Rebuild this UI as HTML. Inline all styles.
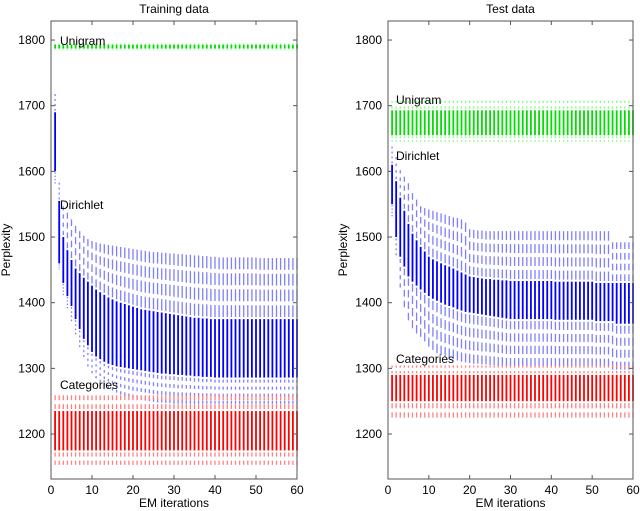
<!DOCTYPE html>
<html><head><meta charset="utf-8"><style>
html,body{margin:0;padding:0;background:#fff;width:640px;height:511px;overflow:hidden}
svg{display:block;font-family:"Liberation Sans",sans-serif}
</style></head><body>
<svg id="c" width="640" height="511"></svg>
<script>
const iterations = Array.from({length:60},(_,i)=>i+1);
const yTicks = [1200,1300,1400,1500,1600,1700,1800];
const xTicks = [0,10,20,30,40,50,60];
// Training Dirichlet quantile curves
const trainInnerTop = [1690,1555,1500,1480,1465,1452,1445,1438,1432,1426,1420,1416,1412,1408,1405,1402,1400,1398,1396,1394,1392,1390,1389,1388,1387,1386,1385,1384,1383,1382,1381,1380,1379,1378,1377,1377,1376,1376,1375,1375,1375,1375,1375,1375,1375,1375,1375,1375,1375,1375,1375,1375,1375,1375,1375,1375,1375,1375,1375,1375];
const trainInnerBot = [1600,1460,1430,1410,1395,1375,1360,1345,1335,1325,1318,1314,1310,1307,1305,1303,1302,1301,1300,1299,1298,1297,1296,1295,1294,1293,1292,1292,1291,1291,1290,1290,1289,1289,1288,1288,1287,1287,1287,1286,1286,1286,1286,1286,1286,1286,1286,1286,1286,1286,1286,1286,1286,1286,1286,1286,1286,1286,1286,1286];
const trainOuterTop = [1720,1585,1550,1540,1530,1520,1512,1505,1500,1497,1495,1493,1492,1491,1490,1489,1488,1487,1486,1485,1484,1483,1482,1481,1480,1480,1479,1479,1478,1478,1477,1477,1476,1476,1475,1475,1474,1474,1473,1473,1472,1472,1472,1472,1472,1472,1472,1472,1472,1472,1471,1471,1471,1471,1471,1471,1471,1471,1471,1471];
const trainOuterBot = [1580,1450,1410,1390,1370,1350,1330,1315,1300,1290,1282,1276,1271,1267,1263,1260,1257,1255,1253,1251,1250,1249,1248,1247,1246,1245,1245,1244,1244,1243,1243,1243,1243,1243,1243,1243,1243,1243,1243,1243,1243,1243,1243,1243,1243,1243,1243,1243,1243,1243,1243,1243,1243,1243,1243,1243,1243,1243,1243,1243];
// Test Dirichlet quantile curves
const testInnerTop = [1610,1585,1560,1540,1520,1505,1495,1485,1478,1470,1466,1463,1460,1457,1455,1452,1449,1446,1443,1440,1439,1438,1437,1436,1436,1435,1435,1434,1434,1433,1433,1433,1433,1433,1433,1433,1433,1433,1433,1433,1432,1432,1432,1432,1432,1432,1432,1432,1432,1432,1430,1430,1430,1430,1430,1430,1430,1430,1430,1430];
const testInnerBot = [1550,1500,1470,1455,1440,1432,1426,1420,1415,1410,1406,1403,1400,1397,1395,1393,1390,1388,1386,1385,1384,1383,1382,1381,1380,1379,1378,1377,1376,1375,1375,1375,1375,1375,1375,1375,1375,1375,1375,1375,1374,1374,1374,1374,1374,1374,1374,1374,1374,1374,1372,1372,1372,1372,1372,1368,1368,1368,1368,1368];
const testOuterTop = [1640,1625,1605,1595,1585,1570,1560,1550,1547,1545,1543,1541,1539,1537,1535,1533,1532,1530,1525,1515,1514,1513,1513,1512,1512,1512,1512,1512,1512,1512,1512,1512,1512,1512,1512,1512,1512,1512,1512,1512,1512,1512,1512,1512,1512,1512,1512,1512,1512,1512,1512,1512,1512,1512,1495,1495,1495,1495,1495,1495];
const testOuterBot = [1530,1470,1420,1390,1370,1358,1350,1345,1338,1330,1325,1320,1317,1315,1313,1311,1309,1307,1306,1305,1304,1304,1303,1303,1302,1302,1301,1301,1300,1300,1300,1300,1300,1300,1300,1300,1300,1300,1300,1300,1300,1300,1300,1300,1300,1300,1300,1300,1300,1300,1300,1300,1300,1300,1295,1295,1295,1295,1295,1295];
// Constant series quantiles: [outerBot, innerBot, innerTop, outerTop]
const unigramTrain = [1784,1787,1793,1796];
const categoriesTrain = [1150,1175,1235,1262];
const unigramTest = [1643,1655,1693,1710];
const categoriesTest = [1222,1250,1290,1307];

const NS="http://www.w3.org/2000/svg";
const svg=document.getElementById('c');
function mk(tag,attrs,parent){const e=document.createElementNS(NS,tag);for(const k in attrs)e.setAttribute(k,attrs[k]);(parent||svg).appendChild(e);return e;}
const yTop=21,yBot=479, ymin=1131.5, ymax=1829;
function ys(v){return yBot-(v-ymin)/(ymax-ymin)*(yBot-yTop);}

function panel(x0,x1,name,title,D,U,C){
  const xs=v=>x0+v/60*(x1-x0);
  const g=mk('g',{});
  
  
  function band(gg,x,lo,hi,n,col){
    const step=(hi-lo)/n;
    for(let k=0;k<n;k++){
      const a=ys(lo+k*step), b=ys(lo+(k+1)*step);
      const gap=Math.min(2,(a-b)*0.3);
      const l=mk('line',{x1:x,x2:x,y1:a-gap,y2:b+gap,stroke:col,'stroke-width':1.3},gg);
      
      
    }
  }
  function bar(gg,i,ob,ib,it,ot,nOut,dark,light){
    const x=xs(i);
    band(gg,x,ob,ib,nOut,light);
    band(gg,x,it,ot,nOut,light);
    const l=mk('line',{x1:x,x2:x,y1:ys(ib),y2:ys(it),stroke:dark,'stroke-width':1.8},gg);
    
    
  }
  const gb=mk('g',{},g);  
  iterations.forEach((it,i)=>bar(gb,it,D[3][i],D[2][i],D[1][i],D[0][i],4,'#0000ff','#7f7fff'));
  const gr=mk('g',{},g);  
  iterations.forEach(it=>bar(gr,it,C[0],C[1],C[2],C[3],2,'#ff0000','#ff8080'));
  const gg2=mk('g',{},g);  
  iterations.forEach(it=>bar(gg2,it,U[0],U[1],U[2],U[3],2,'#00dd00','#80ff80'));
  const fr=mk('rect',{x:x0,y:yTop,width:x1-x0,height:yBot-yTop,fill:'none',stroke:'#555','stroke-width':1},g);
   
  yTicks.forEach(v=>{
    const y=ys(v);
    mk('line',{x1:x0,x2:x0+4,y1:y,y2:y,stroke:'#555'},g);
    mk('line',{x1:x1,x2:x1-4,y1:y,y2:y,stroke:'#555'},g);
    const t=mk('text',{x:x0-6,y:y+4,'text-anchor':'end','font-size':12},g);
    t.textContent=v;
     
  });
  xTicks.forEach(v=>{
    const x=xs(v);
    mk('line',{x1:x,x2:x,y1:yBot,y2:yBot-4,stroke:'#555'},g);
    mk('line',{x1:x,x2:x,y1:yTop,y2:yTop+4,stroke:'#555'},g);
    const t=mk('text',{x:x,y:494,'text-anchor':'middle','font-size':12},g);
    t.textContent=v;
     
  });
  const tt=mk('text',{x:(x0+x1)/2,y:13,'text-anchor':'middle','font-size':12},g);
  tt.textContent=title;  
  const xl=mk('text',{x:(x0+x1)/2,y:507,'text-anchor':'middle','font-size':12},g);
  xl.textContent='EM iterations';  
  const yx=x0-41;
  const yl=mk('text',{x:yx,y:250,'text-anchor':'middle','font-size':12,transform:`rotate(-90 ${yx} 250)`},g);
  yl.textContent='Perplexity';  
  return {g,xs};
}
function label(x,y,txt){const t=mk('text',{x:x,y:y,'font-size':12});t.textContent=txt;
  
  }
panel(51,297,'training-panel','Training data',[trainOuterTop,trainInnerTop,trainInnerBot,trainOuterBot],unigramTrain,categoriesTrain);
panel(388,633,'test-panel','Test data',[testOuterTop,testInnerTop,testInnerBot,testOuterBot],unigramTest,categoriesTest);
label(60,45,'Unigram');label(60,209,'Dirichlet');label(60,389,'Categories');
label(396,104,'Unigram');label(396,160,'Dirichlet');label(396,363,'Categories');
</script>
</body></html>
